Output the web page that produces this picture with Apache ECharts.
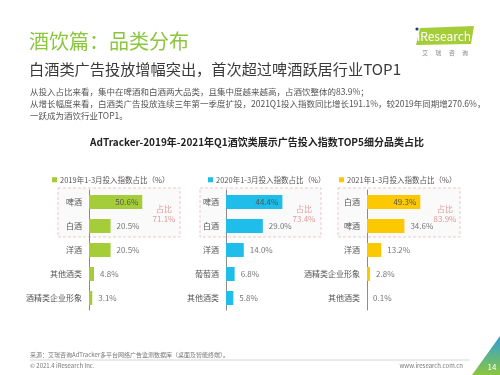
<!DOCTYPE html>
<html>
<head>
<meta charset="utf-8">
<script src="https://cdn.jsdelivr.net/npm/echarts@6/dist/echarts.min.js"></script>
<style>
  html, body { margin: 0; padding: 0; background: #fff; }
  #chart { width: 500px; height: 375px; }
</style>
</head>
<body>
<div id="chart"></div>
<script>
// data
const CATS_2019 = ['啤酒', '白酒', '洋酒', '其他酒类', '酒精类企业形象'];
const VALS_2019 = [50.6, 20.5, 20.5, 4.8, 3.1];
const CATS_2020 = ['啤酒', '白酒', '洋酒', '葡萄酒', '其他酒类'];
const VALS_2020 = [44.4, 29.0, 14.0, 6.8, 5.8];
const CATS_2021 = ['白酒', '啤酒', '洋酒', '酒精类企业形象', '其他酒类'];
const VALS_2021 = [49.3, 34.6, 13.2, 2.8, 0.1];
const SERIES_NAMES = ['2019年1-3月投入指数占比（%）', '2020年1-3月投入指数占比（%）', '2021年1-3月投入指数占比（%）'];
const TOP2_SHARE = ['71.1%', '73.4%', '83.9%'];

const FONT = '"Noto Sans CJK SC", "Noto Sans", sans-serif';
const COLORS = ['#a5cd39', '#1fbde9', '#fcc800'];

// panel layout
const PANELS = [
  { cats: CATS_2019, vals: VALS_2019, left: 89, max: 76, boxX: 58, boxW: 122, shareX: 164, legendLeft: 47 },
  { cats: CATS_2020, vals: VALS_2020, left: 226, max: 63, boxX: 200, boxW: 121, shareX: 304, legendLeft: 203 },
  { cats: CATS_2021, vals: VALS_2021, left: 367, max: 74, boxX: 338, boxW: 122, shareX: 445, legendLeft: 334 },
];

const chart = echarts.init(document.getElementById('chart'), null, { renderer: 'canvas' });

const grids = PANELS.map(p => ({ left: p.left, top: 190, width: 80, height: 120 }));
const xAxes = PANELS.map((p, i) => ({
  type: 'value', gridIndex: i, min: 0, max: p.max, show: false,
}));
const yAxes = PANELS.map((p, i) => ({
  type: 'category', gridIndex: i, data: p.cats, inverse: true,
  axisLine: { show: true, lineStyle: { color: '#8a8a8a', width: 1 } },
  axisTick: { show: false },
  axisLabel: { color: '#555', fontSize: 8, fontFamily: FONT, margin: 7 },
}));
const series = PANELS.map((p, i) => ({
  name: SERIES_NAMES[i],
  type: 'bar',
  xAxisIndex: i,
  yAxisIndex: i,
  barWidth: 14,
  itemStyle: { color: COLORS[i] },
  data: p.vals.map((v, j) => ({
    value: v,
    label: j === 0
      ? { show: true, position: 'insideRight', color: '#555', distance: 4 }
      : { show: true, position: 'right', color: '#777', distance: 6 },
  })),
  label: {
    fontSize: 8, fontFamily: FONT,
    formatter: d => d.value.toFixed(1) + '%',
  },
}));
const legends = PANELS.map((p, i) => ({
  data: [SERIES_NAMES[i]],
  left: p.legendLeft, top: 171,
  icon: 'rect', itemWidth: 5, itemHeight: 5, itemGap: 2,
  textStyle: { color: '#555', fontSize: 7.5, fontFamily: FONT, padding: [0, 0, 0, -2] },
}));

// dashed boxes around the top two categories
const boxes = PANELS.map((p, i) => ([
  {
    type: 'rect', z: -1,
    shape: { x: p.boxX, y: 188, width: p.boxW, height: 49 },
    style: { fill: '#fbfafa', stroke: '#ebc9c9', lineWidth: 1, lineDash: [3, 2] },
  },
  {
    type: 'text',
    style: {
      x: p.shareX, y: 214, text: '占比\n' + TOP2_SHARE[i],
      fill: '#e39a9a', fontSize: 8, fontFamily: FONT, lineHeight: 10,
      align: 'center', verticalAlign: 'middle',
    },
  },
])).flat();

chart.setOption({
  animation: false,
  backgroundColor: '#fff',
  grid: grids,
  xAxis: xAxes,
  yAxis: yAxes,
  legend: legends,
  series: series,
  graphic: [
    // ── Header ──
    { type: 'text', style: { x: 29, y: 41, text: '酒饮篇：品类分布', fill: '#8cc63f', fontSize: 20, fontFamily: FONT, verticalAlign: 'middle' } },
    { type: 'text', style: { x: 29, y: 69, text: '白酒类广告投放增幅突出，首次超过啤酒跃居行业TOP1', fill: '#3a3a3a', fontSize: 15.2, fontFamily: FONT, verticalAlign: 'middle' } },
    { type: 'text', style: { x: 30, y: 92, text: '从投入占比来看，集中在啤酒和白酒两大品类，且集中度越来越高，占酒饮整体的83.9%；', fill: '#555', fontSize: 8.5, fontFamily: FONT, verticalAlign: 'middle' } },
    { type: 'text', style: { x: 30, y: 104, text: '从增长幅度来看，白酒类广告投放连续三年第一季度扩投，2021Q1投入指数同比增长191.1%，较2019年同期增270.6%，', fill: '#555', fontSize: 8.5, fontFamily: FONT, verticalAlign: 'middle' } },
    { type: 'text', style: { x: 30, y: 116, text: '一跃成为酒饮行业TOP1。', fill: '#555', fontSize: 8.5, fontFamily: FONT, verticalAlign: 'middle' } },
    // ── Logo ──
    { type: 'polygon', shape: { points: [[420, 28], [474, 26], [471, 44], [416, 45]] }, style: { fill: '#a5cd39' } },
    { type: 'text', style: { x: 444, y: 36, text: 'iResearch', fill: '#fff', fontSize: 12, fontFamily: FONT, align: 'center', verticalAlign: 'middle' } },
    { type: 'circle', shape: { cx: 417, cy: 29, r: 1.6 }, style: { fill: '#1d3c7a' } },
    { type: 'text', style: { x: 445, y: 53, text: '艾　 瑞　 咨　 询', fill: '#888', fontSize: 6, fontFamily: FONT, align: 'center', verticalAlign: 'middle' } },
    // ── Chart title ──
    { type: 'text', style: { x: 257, y: 142, text: 'AdTracker-2019年-2021年Q1酒饮类展示广告投入指数TOP5细分品类占比', fill: '#222', fontSize: 10, fontWeight: 'bold', fontFamily: FONT, align: 'center', verticalAlign: 'middle' } },
    ...boxes,
    // ── Footer ──
    { type: 'text', style: { x: 30, y: 355, text: '来源：艾瑞咨询AdTracker多平台网络广告监测数据库（桌面及智能终端）。', fill: '#777', fontSize: 6, fontFamily: FONT, verticalAlign: 'middle' } },
    { type: 'line', shape: { x1: 30, y1: 360, x2: 470, y2: 360 }, style: { stroke: '#ccc', lineWidth: 0.8 } },
    { type: 'text', style: { x: 30, y: 366, text: '© 2021.4 iResearch Inc.', fill: '#777', fontSize: 6, fontFamily: FONT, verticalAlign: 'middle' } },
    { type: 'text', style: { x: 463, y: 366, text: 'www.iresearch.com.cn', fill: '#777', fontSize: 6, fontFamily: FONT, align: 'right', verticalAlign: 'middle' } },
    {
      type: 'polygon', shape: { points: [[500, 336], [500, 375], [472, 375]] },
      style: {
        fill: new echarts.graphic.LinearGradient(0, 0, 0, 1, [
          { offset: 0, color: '#2a9fd8' },
          { offset: 1, color: '#8cc63f' },
        ]),
      },
    },
    { type: 'text', style: { x: 492, y: 367, text: '14', fill: '#fff', fontSize: 8, fontFamily: FONT, align: 'center', verticalAlign: 'middle' } },
  ],
});
</script>
</body>
</html>
